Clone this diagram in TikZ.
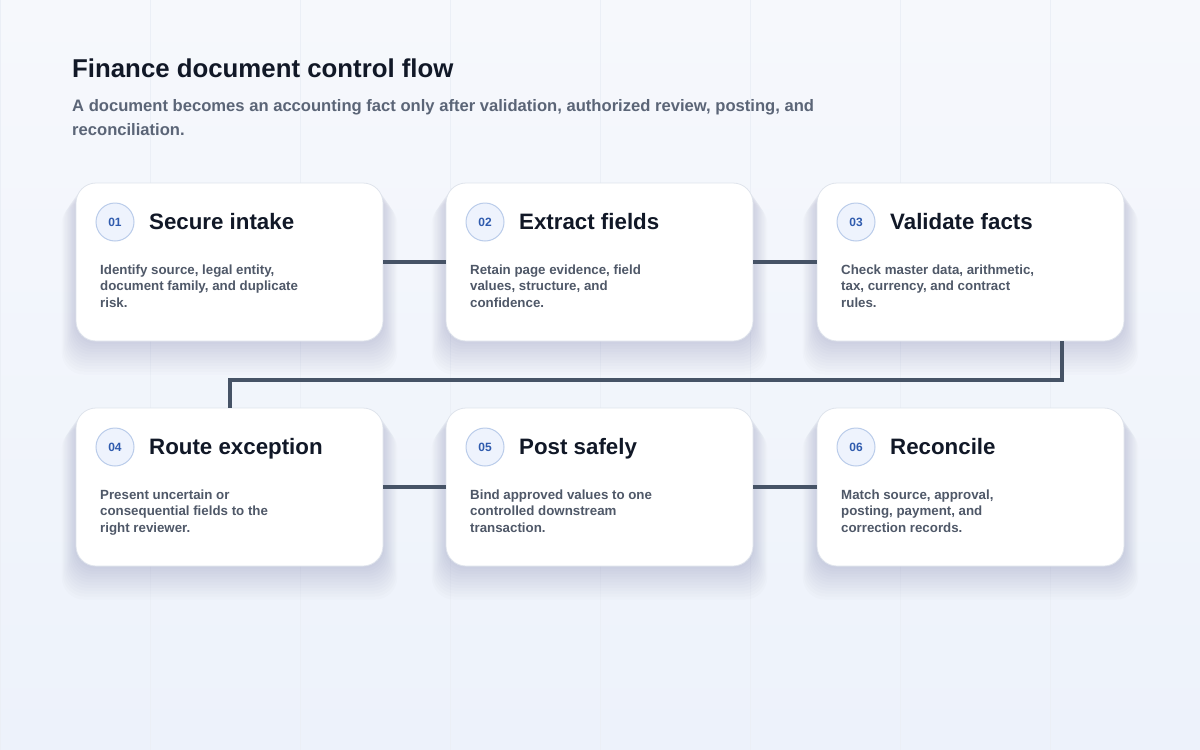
\documentclass[tikz,border=0pt]{standalone}
\usepackage{fontspec}
\setmainfont{Liberation Sans}
\usetikzlibrary{shadows}
\definecolor{bgtop}{HTML}{F6F8FC}
\definecolor{bgbot}{HTML}{EDF2FB}
\definecolor{gridc}{HTML}{EBEFF6}
\definecolor{ink}{HTML}{111827}
\definecolor{muted}{HTML}{5B6577}
\definecolor{bodyc}{HTML}{4F5868}
\definecolor{linkc}{HTML}{465366}
\definecolor{badgefill}{HTML}{EEF3FD}
\definecolor{badgeline}{HTML}{BACCEA}
\definecolor{badgetext}{HTML}{2F5BAE}
\definecolor{cardline}{HTML}{DFE4EC}
\definecolor{shadowc}{HTML}{3B4A78}
\tikzset{
  softshadow/.style={general shadow={fill=shadowc, opacity=0.014, shadow yshift=-#1, shadow scale=1+#1/260}},
  card/.style={draw=cardline, line width=0.8pt, fill=white, rounded corners=20pt,
    minimum width=307pt, minimum height=158pt, inner sep=0pt,
    softshadow=2pt, softshadow=4pt, softshadow=6pt, softshadow=8pt, softshadow=10pt,
    softshadow=12pt, softshadow=14pt, softshadow=16pt, softshadow=18pt, softshadow=20pt,
    softshadow=22pt, softshadow=24pt},
  badge/.style={circle, draw=badgeline, line width=1pt, fill=badgefill, minimum size=38pt,
    inner sep=0pt, text=badgetext, font=\fontsize{12}{14}\selectfont\bfseries},
  cardtitle/.style={anchor=base west, inner sep=0pt, text=ink, font=\fontsize{22.3}{26}\selectfont\bfseries},
  cardbody/.style={anchor=north west, inner sep=0pt, align=left, text=bodyc,
    font=\fontsize{13.3}{16.5}\selectfont\bfseries},
  link/.style={draw=linkc, line width=4pt},
  gridline/.style={draw=gridc, line width=0.8pt}
}
\begin{document}
\begin{tikzpicture}[x=1pt, y=-1pt]
              \useasboundingbox (0,0) rectangle (1200,750);
              \shade[top color=bgtop, bottom color=bgbot] (0,0) rectangle (1200,750);
              \draw[gridline] (0,0) grid[xstep=150, ystep=125] (1200,750);
              % heading
              \node[anchor=base west, inner sep=0pt, text=ink, font=\fontsize{25.8}{30}\selectfont\bfseries] (title) at (72,77) {Finance document control flow};
              \node[anchor=north west, inner sep=0pt, align=left, text=muted, font=\fontsize{16.6}{24}\selectfont\bfseries] (subtitle) at (72,99) {A document becomes an accounting fact only after validation, authorized review, posting, and\\ reconciliation.};
              % first row
              \node[card] (c1) at (229.5,262) {};
              \node[badge] (b1) at (115,222) {01};
              \node[cardtitle] (t1) at (149,229) {Secure intake};
              \node[cardbody] (d1) at (100,264.5) {Identify source, legal entity,\\ document family, and duplicate\\ risk.};
              \node[card] (c2) at (599.5,262) {};
              \node[badge] (b2) at (485,222) {02};
              \node[cardtitle] (t2) at (519,229) {Extract fields};
              \node[cardbody] (d2) at (470,264.5) {Retain page evidence, field\\ values, structure, and\\ confidence.};
              \node[card] (c3) at (970.5,262) {};
              \node[badge] (b3) at (856,222) {03};
              \node[cardtitle] (t3) at (890,229) {Validate facts};
              \node[cardbody] (d3) at (841,264.5) {Check master data, arithmetic,\\ tax, currency, and contract\\ rules.};
              % second row
              \node[card] (c4) at (229.5,487) {};
              \node[badge] (b4) at (115,447) {04};
              \node[cardtitle] (t4) at (149,454) {Route exception};
              \node[cardbody] (d4) at (100,489.5) {Present uncertain or\\ consequential fields to the\\ right reviewer.};
              \node[card] (c5) at (599.5,487) {};
              \node[badge] (b5) at (485,447) {05};
              \node[cardtitle] (t5) at (519,454) {Post safely};
              \node[cardbody] (d5) at (470,489.5) {Bind approved values to one\\ controlled downstream\\ transaction.};
              \node[card] (c6) at (970.5,487) {};
              \node[badge] (b6) at (856,447) {06};
              \node[cardtitle] (t6) at (890,454) {Reconcile};
              \node[cardbody] (d6) at (841,489.5) {Match source, approval,\\ posting, payment, and\\ correction records.};
              % connectors
              \draw[link] (c1.east) -- (c2.west);
              \draw[link] (c2.east) -- (c3.west);
              \coordinate (bend) at (1062,380);
              \draw[link] (c3.south -| bend) -- (bend) -| (c4.north);
              \draw[link] (c4.east) -- (c5.west);
              \draw[link] (c5.east) -- (c6.west);
\end{tikzpicture}
\end{document}
